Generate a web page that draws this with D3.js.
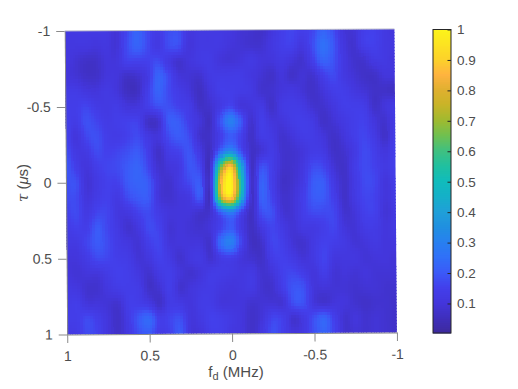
<!DOCTYPE html>
<html>
<head>
<meta charset="utf-8">
<script src="https://d3js.org/d3.v7.min.js"></script>
<style>
  body { margin: 0; background: white; }
  text { font-family: "Liberation Sans", Arial, sans-serif; fill: #4d4d4d; }
</style>
</head>
<body>
<div id="chart"></div>
<script>
// ambiguity surface, one row per tau, one column per 1/16 MHz, values x100
var fdStep = 16;
var tau = [-1, -0.9, -0.8, -0.7, -0.6, -0.5, -0.4, -0.3, -0.2, -0.1, 0,
           0.1, 0.2, 0.3, 0.4, 0.5, 0.6, 0.7, 0.8, 0.9, 1];
var amp = [
  [12,12,12,12,12,9,16,22,17,13,17,18,11,12,12,12,11,9,8,7,10,14,16,14,16,22,18,10,9,14,15,12,10],
  [11,11,11,10,11,9,17,22,17,12,17,18,10,12,12,12,10,9,8,8,11,14,15,11,17,25,20,11,8,14,15,12,11],
  [11,9,7,7,10,10,15,15,15,17,12,8,10,12,13,10,9,10,12,10,10,12,10,8,14,22,19,12,8,8,12,12,10],
  [10,9,7,7,10,10,7,8,12,22,17,10,9,8,12,13,13,13,11,9,7,10,7,9,8,14,17,12,9,7,7,10,10],
  [13,13,11,10,12,10,6,6,14,22,17,13,10,6,10,14,14,13,12,8,8,10,11,9,7,10,14,14,11,9,7,7,6],
  [14,14,16,13,12,13,10,10,14,18,18,15,13,7,8,12,16,10,10,12,7,12,13,12,8,8,11,14,14,13,7,10,12],
  [15,13,18,16,13,14,15,15,7,8,20,20,14,10,6,18,30,20,8,14,10,10,13,14,12,7,9,12,14,15,10,8,13],
  [16,10,16,18,14,13,15,17,12,10,17,20,17,8,7,14,20,15,7,13,12,8,10,13,13,10,7,10,14,16,12,7,14],
  [18,12,12,17,15,16,18,20,14,7,13,15,19,12,6,22,33,18,7,9,13,8,8,10,13,12,7,8,12,17,14,10,15],
  [20,14,10,14,16,17,20,22,16,8,10,12,19,16,7,62,88,42,7,18,14,8,8,11,17,16,9,7,13,17,15,12,15],
  [18,18,9,12,15,15,20,22,20,10,8,12,17,20,9,80,100,52,8,22,14,7,8,12,20,20,12,7,12,17,16,10,14],
  [17,17,10,13,15,12,17,20,20,10,8,10,12,20,7,74,92,47,7,22,15,8,9,14,20,20,14,7,12,16,15,10,13],
  [15,17,12,16,16,11,11,15,17,13,10,10,10,8,8,22,30,16,6,18,18,9,9,14,17,17,16,8,10,15,15,9,12],
  [13,15,14,20,16,12,8,11,17,15,9,10,9,8,10,15,20,12,6,12,16,12,9,12,12,14,16,10,9,13,13,10,12],
  [12,12,16,20,17,13,11,9,14,16,10,10,10,10,8,24,30,15,6,8,16,14,9,8,12,15,14,12,9,10,12,10,11],
  [10,10,13,17,16,14,13,9,11,15,12,8,11,12,8,13,14,10,8,7,14,15,12,9,12,16,11,11,11,9,10,10,9],
  [10,9,10,10,13,15,14,11,8,12,14,10,8,10,13,13,12,11,12,8,10,15,16,13,10,14,9,10,9,10,9,9,9],
  [12,11,8,8,11,13,14,13,7,9,14,8,10,12,13,11,10,11,12,8,8,14,19,18,10,10,9,9,8,9,9,8,8],
  [13,14,10,10,9,8,14,14,12,7,13,12,10,13,13,10,10,10,8,9,9,9,18,18,10,8,10,10,8,7,8,8,7],
  [14,14,17,14,10,7,13,20,23,14,16,18,10,12,15,14,12,10,7,10,16,14,8,12,18,22,14,8,10,8,9,8,7],
  [12,13,17,15,10,7,12,18,20,13,15,20,10,10,14,14,11,10,7,12,18,14,10,12,18,22,15,8,9,8,9,8,7]
];
var fd = d3.range(0, 2 * fdStep + 1).map(function(i) { return 1 - i / fdStep; });

var xTicks = [1, 0.5, 0, -0.5, -1];
var yTicks = [-1, -0.5, 0, 0.5, 1];
var cbarTicks = [0.1, 0.2, 0.3, 0.4, 0.5, 0.6, 0.7, 0.8, 0.9, 1];

// colormap stops
var colorStops = [0, 0.05, 0.1, 0.15, 0.2, 0.25, 0.3, 0.35, 0.4, 0.45, 0.5, 0.55, 0.6, 0.65, 0.7, 0.75, 0.8, 0.85, 0.9, 1];
var colorValues = ["#3d2a9c", "#3f2fbc", "#4336dc", "#433feb", "#3b5af8", "#3070f8", "#2880f0", "#2090e0",
                   "#20a0d8", "#15b0c8", "#10bcbc", "#20c0a0", "#40c080", "#70c050", "#a0ba30", "#c8b428",
                   "#e0b030", "#ffb340", "#fcd22a", "#fcf51a"];

var color = d3.scaleLinear().domain(colorStops).range(colorValues).clamp(true);

var svgWidth = 518, svgHeight = 389;
var plotW = 329.7, plotH = 303.5;

var svg = d3.select("#chart")
  .append("svg")
    .attr("width", svgWidth)
    .attr("height", svgHeight)
    .style("display", "block");

// the view is very slightly rotated, so the plot sits in a skewed group
var plot = svg.append("g")
    .attr("transform", "matrix(1," + (-2 / plotW) + "," + (2.5 / plotH) + ",1,64.7,31)");

var x = d3.scaleLinear().domain([1, -1]).range([0, plotW]);
var y = d3.scaleLinear().domain([-1, 1]).range([0, plotH]);

// catmull-rom lookup along one direction, like shading interp
function cubic(a, b, c, d, t) {
  return b + 0.5 * t * (c - a + t * (2 * a - 5 * b + 4 * c - d + t * (3 * (b - c) + d - a)));
}
function at(r, c) {
  r = Math.max(0, Math.min(tau.length - 1, r));
  c = Math.max(0, Math.min(fd.length - 1, c));
  return amp[r][c] / 100;
}
function sample(rf, cf) {
  var r = Math.min(Math.floor(rf), tau.length - 2), c = Math.min(Math.floor(cf), fd.length - 2);
  var tr = rf - r, tc = cf - c, v = [];
  for (var i = -1; i <= 2; i++) {
    v.push(cubic(at(r + i, c - 1), at(r + i, c), at(r + i, c + 1), at(r + i, c + 2), tc));
  }
  return cubic(v[0], v[1], v[2], v[3], tr);
}

// small cells so the surface looks smooth
var subX = 4, subY = 5;
var cells = [];
for (var i = 0; i < (tau.length - 1) * subY; i++) {
  for (var j = 0; j < (fd.length - 1) * subX; j++) {
    cells.push({r: i / subY, c: j / subX});
  }
}
var fdIndex = d3.scaleLinear().domain([0, fd.length - 1]).range([fd[0], fd[fd.length - 1]]);
var tauIndex = d3.scaleLinear().domain([0, tau.length - 1]).range([tau[0], tau[tau.length - 1]]);

// clip so the overlap of the last cells does not stick out of the box
plot.append("clipPath")
    .attr("id", "box")
  .append("rect")
    .attr("width", plotW)
    .attr("height", plotH);

plot.append("g")
    .attr("clip-path", "url(#box)")
  .selectAll("rect.cell")
  .data(cells)
  .enter()
  .append("rect")
    .attr("class", "cell")
    .attr("shape-rendering", "crispEdges")
    .attr("x", function(d) { return x(fdIndex(d.c)); })
    .attr("y", function(d) { return y(tauIndex(d.r)); })
    .attr("width", x(fdIndex(1 / subX)) - x(fdIndex(0)) + 0.8)
    .attr("height", y(tauIndex(1 / subY)) - y(tauIndex(0)) + 0.8)
    .attr("fill", function(d) { return color(sample(d.r + 0.5 / subY, d.c + 0.5 / subX)); });

// Y axis
var yAxis = plot.append("g")
    .call(d3.axisLeft(y).tickValues(yTicks).tickSize(8.5).tickPadding(6).tickSizeOuter(0)
      .tickFormat(function(d) { return d; }));

// X axis
var xAxis = plot.append("g")
    .attr("transform", "translate(0," + plotH + ")")
    .call(d3.axisBottom(x).tickValues(xTicks).tickSize(8.5).tickPadding(8).tickSizeOuter(0)
      .tickFormat(function(d) { return d; }));

plot.selectAll(".domain, .tick line").attr("stroke", "#8a8a8a");
plot.selectAll(".tick text").style("font-size", "14px").style("font-family", "Liberation Sans");

// top edge of the box
plot.append("line")
    .attr("x1", x(1)).attr("x2", x(-1))
    .attr("y1", y(-1)).attr("y2", y(-1))
    .attr("stroke", "#b4b4c8");

// axis labels
var xLabel = svg.append("text")
    .attr("x", 236)
    .attr("y", 377)
    .attr("text-anchor", "middle")
    .style("font-size", "15px");
xLabel.append("tspan").text("f");
xLabel.append("tspan").attr("dy", 3).style("font-size", "11px").text("d");
xLabel.append("tspan").attr("dy", -3).text(" (MHz)");

var yLabel = svg.append("text")
    .attr("transform", "translate(28,183)rotate(-90)")
    .attr("text-anchor", "middle")
    .style("font-size", "15px");
yLabel.append("tspan").style("font-family", "DejaVu Serif").style("font-style", "italic").text("\u03c4");
yLabel.append("tspan").text(" (");
yLabel.append("tspan").style("font-style", "italic").text("\u03bc");
yLabel.append("tspan").text("s)");

// colorbar
var cbarX = 433, cbarW = 18, cbarTop = 29.5, cbarH = 303.5;
var cbarScale = d3.scaleLinear().domain([0.003, 1]).range([cbarTop + cbarH, cbarTop]);

var cbarLevels = d3.range(0, 152).map(function(i) { return 0.003 + (i / 152) * 0.997; });
svg.selectAll("rect.level")
  .data(cbarLevels)
  .enter()
  .append("rect")
    .attr("class", "level")
    .attr("x", cbarX)
    .attr("width", cbarW)
    .attr("y", function(d) { return cbarScale(d) - 2.5; })
    .attr("height", 3)
    .attr("fill", function(d) { return color(d); });

svg.append("rect")
    .attr("x", cbarX).attr("y", cbarTop)
    .attr("width", cbarW).attr("height", cbarH)
    .attr("fill", "none")
    .attr("stroke", "#262626");

var cbarAxis = svg.append("g")
    .attr("transform", "translate(" + (cbarX + cbarW) + ",0)")
    .call(d3.axisRight(cbarScale).tickValues(cbarTicks).tickSize(-3.5).tickPadding(6).tickSizeOuter(0)
      .tickFormat(function(d) { return d; }));
cbarAxis.select(".domain").remove();
cbarAxis.selectAll(".tick line").attr("stroke", "#262626");
cbarAxis.selectAll(".tick text").style("font-size", "13.5px").style("font-family", "Liberation Sans");
</script>
</body>
</html>
